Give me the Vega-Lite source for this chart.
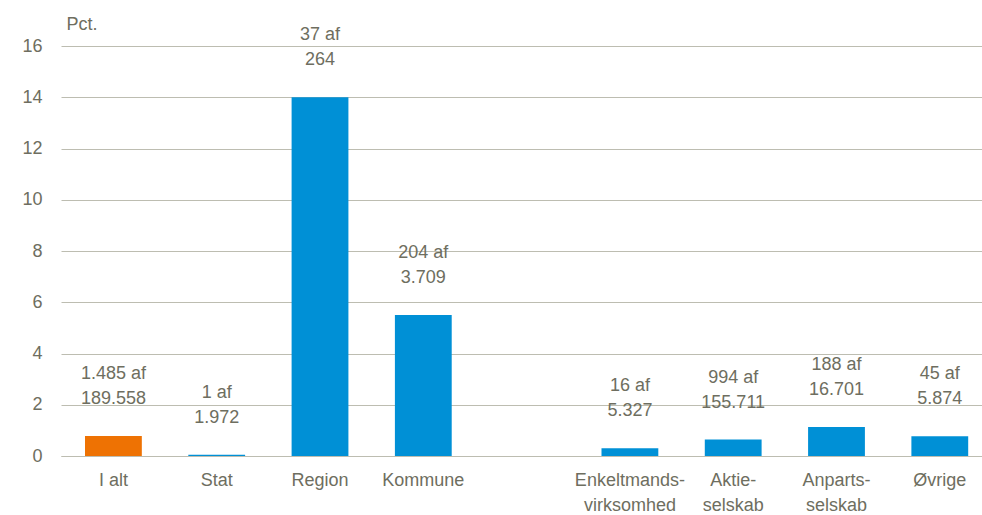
{
  "$schema": "https://vega.github.io/schema/vega-lite/v6.json",
  "autosize": "none",
  "padding": {"left": 61, "top": 46, "right": 0, "bottom": 59},
  "width": 921,
  "height": 410,
  "background": "white",
  "config": {
    "view": {"stroke": null},
    "font": "Liberation Sans",
    "axis": {
      "labelFont": "Liberation Sans",
      "titleFont": "Liberation Sans",
      "labelColor": "#6e6e60",
      "titleColor": "#6e6e60",
      "labelFontSize": 18,
      "gridColor": "#bdbdb1",
      "domainColor": "#bdbdb1"
    }
  },
  "data": {
    "values": [
      {"kategori": "I alt", "pct": 0.78, "label": ["1.485 af", "189.558"], "gruppe": "total"},
      {"kategori": "Stat", "pct": 0.05, "label": ["1 af", "1.972"], "gruppe": "del"},
      {"kategori": "Region", "pct": 14.0, "label": ["37 af", "264"], "gruppe": "del"},
      {"kategori": "Kommune", "pct": 5.5, "label": ["204 af", "3.709"], "gruppe": "del"},
      {"kategori": "Enkeltmands-virksomhed", "pct": 0.3, "label": ["16 af", "5.327"], "gruppe": "del"},
      {"kategori": "Aktie-selskab", "pct": 0.64, "label": ["994 af", "155.711"], "gruppe": "del"},
      {"kategori": "Anparts-selskab", "pct": 1.13, "label": ["188 af", "16.701"], "gruppe": "del"},
      {"kategori": "Øvrige", "pct": 0.77, "label": ["45 af", "5.874"], "gruppe": "del"}
    ]
  },
  "encoding": {
    "x": {
      "field": "kategori",
      "type": "nominal",
      "sort": null,
      "scale": {
        "domain": ["I alt", "Stat", "Region", "Kommune", " ", "Enkeltmands-virksomhed", "Aktie-selskab", "Anparts-selskab", "Øvrige"],
        "paddingInner": 0.45,
        "paddingOuter": 0.183,
        "align": 0.635
      },
      "axis": {
        "title": null,
        "ticks": false,
        "labelAngle": 0,
        "labelPadding": 15,
        "labelLineHeight": 25,
        "labelBaseline": "top",
        "labelExpr": "indexof(datum.label, '-') > 0 ? [slice(datum.label, 0, indexof(datum.label, '-') + 1), slice(datum.label, indexof(datum.label, '-') + 1)] : datum.label"
      }
    }
  },
  "layer": [
    {
      "mark": {"type": "bar"},
      "encoding": {
        "y": {
          "field": "pct",
          "type": "quantitative",
          "scale": {"domain": [0, 16], "nice": false},
          "axis": {
            "values": [0, 2, 4, 6, 8, 10, 12, 14, 16],
            "ticks": false,
            "domain": false,
            "labelPadding": 19,
            "title": "Pct.",
            "titleAngle": 0,
            "titleAlign": "left",
            "titleBaseline": "alphabetic",
            "titleX": 5,
            "titleY": -17,
            "titleFontSize": 18,
            "titleFontWeight": "normal"
          }
        },
        "color": {
          "field": "gruppe",
          "type": "nominal",
          "scale": {"domain": ["total", "del"], "range": ["#ee7203", "#0090d6"]},
          "legend": null
        }
      }
    },
    {
      "mark": {
        "type": "text",
        "baseline": "alphabetic",
        "dy": -57,
        "fontSize": 18,
        "lineHeight": 25,
        "color": "#6e6e60"
      },
      "encoding": {
        "y": {"field": "pct", "type": "quantitative"},
        "text": {"field": "label"}
      }
    }
  ]
}
